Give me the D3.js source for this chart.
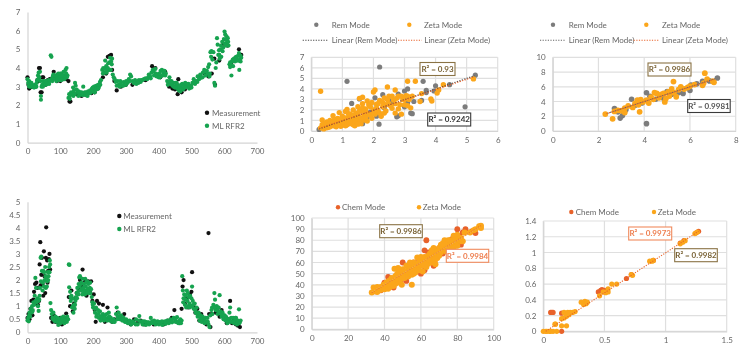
<!DOCTYPE html>
<html>
<head>
<meta charset="utf-8">
<script src="https://cdn.jsdelivr.net/npm/d3@7"></script>
<style>
  html, body { margin: 0; background: #fff; }
  svg { display: block; filter: blur(0.55px); }
  text { font-family: Lato, "Open Sans", sans-serif; fill: #595959; }
</style>
</head>
<body>
<div id="chart"></div>
<script>
// Values
const xTicksTime = [0, 100, 200, 300, 400, 500, 600, 700];
const yTicksA = [0, 1, 2, 3, 4, 5, 6, 7];
const yTicksD = [0, 0.5, 1, 1.5, 2, 2.5, 3, 3.5, 4, 4.5, 5];
const xTicksB = [0, 1, 2, 3, 4, 5, 6];
const yTicksB = [0, 1, 2, 3, 4, 5, 6, 7];
const xTicksC = [0, 2, 4, 6, 8];
const yTicksC = [0, 2, 4, 6, 8, 10];
const xTicksE = [0, 20, 40, 60, 80, 100];
const yTicksE = [0, 10, 20, 30, 40, 50, 60, 70, 80, 90, 100];
const xTicksF = [0, 0.5, 1, 1.5];
const yTicksF = [0, 0.2, 0.4, 0.6, 0.8, 1, 1.2, 1.4];

const measureA = [[0,3.5],[3,3.1],[5,2.9],[8,2.95],[12,3.0],[18,3.0],[24,3.0],[30,3.35],[33,3.3],[35,4.0],[38,4.0],[40,2.7],[43,2.7],[45,3.5],[48,3.5],[55,3.1],[62,3.35],[68,3.4],[80,3.8],[90,3.3],[100,3.3],[110,3.4],[118,3.4],[125,3.3],[128,2.2],[131,2.2],[140,2.6],[150,2.6],[165,2.5],[180,2.55],[195,2.65],[205,2.7],[215,2.9],[230,3.5],[240,3.7],[245,4.6],[250,4.65],[255,4.7],[258,3.9],[265,3.3],[272,2.8],[285,3.0],[300,3.1],[320,3.1],[340,3.25],[360,3.35],[380,4.1],[390,4.0],[405,3.5],[420,3.8],[432,3.0],[442,2.9],[450,2.85],[458,2.6],[460,3.4],[470,2.7],[480,2.85],[495,2.95],[510,3.2],[525,3.5],[540,3.7],[552,3.55],[562,3.7],[570,4.5],[572,3.1],[585,4.4],[598,5.3],[610,5.2],[622,4.3],[632,4.5],[645,5.0],[648,4.7],[652,4.7]];
const modelA = [[0,3.4],[2,3.2],[4,3.05],[6,3.0],[8,3.15],[10,3.0],[13,3.1],[16,3.0],[19,3.05],[22,3.1],[25,3.0],[28,3.2],[30,3.35],[32,3.6],[34,3.75],[36,3.5],[38,3.8],[40,3.3],[41,2.5],[41,2.3],[43,3.0],[45,3.1],[47,3.0],[50,3.15],[53,3.2],[56,3.1],[59,3.3],[62,3.25],[65,3.35],[68,3.3],[71,4.68],[73,4.6],[74,3.4],[77,3.55],[80,3.45],[83,3.6],[86,3.4],[89,3.55],[92,3.65],[95,3.4],[98,3.6],[101,3.5],[104,3.7],[107,3.45],[110,3.8],[113,3.6],[116,3.9],[119,4.0],[122,3.6],[125,2.4],[127,2.6],[129,2.35],[131,2.55],[133,2.7],[136,2.65],[139,2.95],[142,2.8],[145,3.2],[147,3.05],[150,2.85],[153,2.7],[156,2.75],[159,2.55],[162,2.6],[165,2.7],[168,2.55],[170,3.0],[173,2.6],[176,2.55],[179,2.7],[182,2.6],[185,2.75],[188,2.65],[191,2.8],[194,2.7],[197,2.9],[200,2.75],[203,3.0],[206,2.85],[209,3.05],[212,2.95],[215,3.1],[218,3.0],[221,3.25],[224,3.35],[228,3.9],[231,4.0],[234,3.75],[237,4.4],[240,4.1],[243,3.85],[246,4.25],[249,3.9],[252,4.55],[255,4.35],[258,4.5],[260,3.65],[263,3.5],[266,3.4],[269,3.25],[272,3.05],[275,3.3],[278,3.1],[281,3.0],[285,3.15],[289,3.05],[293,3.25],[297,3.15],[301,3.3],[305,3.2],[309,3.4],[313,3.65],[316,3.55],[320,3.3],[324,3.2],[328,3.35],[332,3.15],[336,3.3],[340,3.35],[345,3.25],[350,3.35],[355,3.4],[360,3.45],[365,3.4],[370,3.65],[374,3.55],[378,3.75],[382,3.9],[386,3.6],[390,3.95],[394,3.55],[398,3.65],[402,3.7],[406,3.85],[410,3.9],[414,3.75],[418,3.85],[422,3.7],[426,3.3],[430,3.2],[433,3.5],[436,3.15],[439,3.3],[442,3.05],[445,3.2],[448,3.0],[451,3.2],[454,2.95],[457,3.1],[460,2.85],[463,3.0],[466,2.75],[469,2.95],[472,3.15],[475,2.9],[478,3.05],[481,3.2],[484,3.05],[487,3.0],[491,3.15],[495,3.0],[499,3.05],[503,3.2],[507,3.4],[511,3.15],[515,3.3],[519,3.55],[523,3.4],[527,3.65],[531,3.5],[535,3.75],[539,3.9],[543,3.6],[547,3.85],[551,4.05],[554,4.2],[556,3.7],[558,4.85],[561,4.9],[564,4.45],[567,4.85],[570,3.2],[572,3.05],[574,4.0],[576,4.3],[578,5.6],[580,5.25],[582,4.7],[584,4.95],[586,4.5],[588,5.0],[591,4.6],[594,5.4],[597,5.1],[599,5.55],[601,5.95],[603,5.8],[605,5.5],[607,5.7],[609,5.35],[611,5.6],[613,5.2],[616,4.2],[618,4.05],[620,4.2],[622,3.6],[624,4.35],[627,4.1],[630,4.5],[633,4.35],[636,4.6],[639,4.4],[642,4.65],[645,4.8],[646,3.9],[648,4.45],[650,4.35],[652,4.55]];
const modelAExtra = [[5,3.3],[12,3.2],[20,2.95],[27,3.0],[33,3.4],[48,3.3],[55,3.3],[60,3.15],[66,3.15],[76,3.3],[79,3.65],[85,3.6],[88,3.3],[91,3.4],[94,3.7],[97,3.35],[100,3.7],[103,3.35],[106,3.6],[109,3.6],[112,3.4],[115,3.55],[118,3.7],[120,3.5],[140,2.5],[144,2.6],[155,2.5],[160,2.7],[167,2.65],[175,2.7],[183,2.5],[190,2.65],[199,2.95],[205,2.7],[210,2.85],[216,2.9],[222,3.1],[230,3.7],[236,3.95],[241,3.75],[245,4.0],[250,4.3],[254,3.9],[257,4.2],[283,3.3],[292,3.05],[300,3.1],[312,3.3],[327,3.2],[338,3.2],[347,3.35],[368,3.5],[376,3.45],[385,3.8],[392,3.7],[400,3.5],[404,3.5],[412,3.6],[420,3.6],[428,3.1],[434,3.3],[440,3.2],[446,3.0],[450,2.95],[455,3.2],[462,2.8],[468,3.1],[474,2.85],[480,2.95],[486,3.15],[493,2.9],[500,2.95],[510,3.3],[518,3.25],[526,3.45],[534,3.5],[542,3.8],[550,3.7],[555,3.55],[560,4.6],[585,4.7],[590,5.2],[595,4.9],[602,5.3],[606,5.2],[612,5.4],[618,4.3],[626,4.45],[632,4.5],[638,4.5],[644,4.4],[650,4.65]];

const measureD = [[0,0.55],[3,0.7],[6,0.5],[9,0.9],[12,1.2],[15,0.65],[18,1.25],[20,1.55],[23,1.85],[25,1.1],[27,1.9],[30,1.7],[32,1.05],[35,1.2],[37,2.6],[39,3.45],[40,1.8],[42,2.2],[44,2.85],[46,1.85],[48,1.4],[50,3.1],[52,2.15],[54,1.5],[56,2.85],[57,4.02],[60,2.75],[61,1.9],[63,2.35],[65,2.8],[67,3.0],[69,2.4],[72,0.55],[76,0.4],[80,0.65],[85,0.4],[90,0.5],[95,0.35],[100,0.55],[105,0.3],[110,0.45],[115,0.4],[118,0.72],[122,0.5],[126,1.35],[130,1.0],[134,1.6],[138,0.8],[142,1.1],[146,1.3],[150,1.5],[155,1.7],[160,2.0],[165,1.75],[168,2.4],[172,1.5],[176,1.95],[180,1.4],[185,1.95],[190,1.55],[194,1.95],[198,1.2],[202,1.45],[205,0.85],[208,0.4],[212,1.2],[218,1.1],[224,0.6],[230,1.05],[236,0.4],[244,0.95],[250,0.5],[258,0.4],[265,0.5],[275,0.75],[285,0.5],[295,0.7],[305,0.4],[315,0.3],[325,0.5],[335,0.35],[345,0.45],[355,0.3],[370,0.35],[385,0.3],[400,0.35],[415,0.3],[428,0.45],[440,0.55],[448,0.85],[456,0.4],[464,0.35],[470,0.9],[473,1.75],[476,2.0],[480,1.1],[485,1.3],[490,0.95],[495,1.45],[500,1.55],[502,2.3],[506,1.0],[512,0.75],[518,0.9],[524,0.45],[530,0.7],[538,0.4],[546,0.3],[552,3.8],[554,0.7],[558,0.2],[562,0.7],[568,0.95],[574,0.75],[580,0.95],[586,0.6],[592,0.85],[600,0.5],[608,0.35],[614,0.5],[618,1.2],[624,0.35],[630,0.5],[636,0.3],[642,0.25],[648,0.2]];
const modelD = [[0,0.45],[2,0.55],[4,0.42],[6,0.75],[8,0.6],[10,0.9],[12,0.75],[14,1.0],[16,0.85],[18,1.15],[20,1.05],[22,1.4],[24,2.08],[26,1.7],[28,1.15],[30,1.3],[32,1.0],[34,0.82],[36,1.25],[38,1.7],[40,2.85],[42,2.9],[44,2.35],[46,1.6],[48,2.35],[50,1.75],[52,2.0],[54,2.5],[56,1.7],[58,2.1],[60,1.95],[62,2.3],[64,2.15],[66,2.5],[68,2.75],[69,2.6],[70,1.12],[72,0.85],[74,0.7],[76,0.55],[79,0.75],[82,0.45],[85,0.6],[88,0.45],[91,0.55],[94,0.28],[97,0.5],[100,0.35],[103,0.55],[106,0.42],[109,0.6],[112,0.35],[115,0.55],[118,0.45],[121,0.6],[124,0.5],[126,2.6],[128,2.58],[127,1.72],[130,1.55],[132,1.2],[134,1.4],[136,0.95],[138,1.3],[140,0.75],[142,1.05],[144,0.9],[146,1.2],[148,1.35],[150,1.5],[152,1.7],[154,1.55],[156,1.85],[158,2.1],[160,2.15],[162,1.6],[164,1.9],[166,1.65],[168,2.05],[170,1.5],[172,1.85],[174,1.6],[176,2.05],[178,1.75],[180,1.5],[182,1.95],[184,1.65],[186,1.85],[188,1.5],[190,1.7],[192,1.5],[194,1.65],[196,1.35],[198,1.15],[200,0.95],[203,1.1],[206,0.75],[209,0.95],[212,0.7],[215,0.85],[218,0.55],[221,0.8],[224,0.6],[227,0.5],[230,0.7],[233,0.45],[236,0.65],[239,0.5],[242,0.7],[245,0.55],[248,0.75],[251,0.45],[254,0.55],[258,0.4],[262,0.5],[266,0.4],[270,0.7],[272,0.95],[275,0.6],[278,0.75],[281,0.5],[285,0.65],[289,0.45],[293,0.55],[297,0.4],[301,0.5],[306,0.35],[311,0.45],[316,0.3],[321,0.42],[326,0.35],[331,0.5],[336,0.3],[341,0.62],[346,0.4],[351,0.3],[356,0.42],[361,0.28],[366,0.38],[371,0.3],[376,0.55],[381,0.35],[386,0.45],[391,0.3],[396,0.42],[401,0.3],[406,0.38],[411,0.28],[416,0.4],[421,0.32],[426,0.45],[431,0.35],[436,0.5],[441,0.38],[446,0.55],[451,0.4],[456,0.58],[461,0.42],[466,0.5],[470,0.45],[472,2.15],[474,1.6],[476,1.3],[478,1.45],[480,1.05],[482,1.25],[484,0.95],[486,1.6],[488,1.2],[490,1.0],[492,1.35],[494,1.1],[496,1.4],[498,1.0],[500,1.3],[502,1.75],[504,1.2],[507,0.9],[510,1.1],[513,0.75],[516,0.95],[519,0.6],[522,0.75],[525,0.45],[528,0.65],[531,0.4],[534,0.6],[537,0.5],[540,0.35],[543,0.55],[546,0.4],[549,0.55],[552,0.3],[555,0.2],[558,0.65],[561,0.85],[564,0.7],[567,1.05],[570,1.5],[572,1.25],[574,0.85],[577,1.0],[580,0.7],[583,0.95],[586,1.42],[589,0.8],[592,0.6],[595,0.75],[598,0.5],[601,0.65],[604,0.45],[607,0.55],[610,0.35],[613,0.5],[616,0.75],[618,0.95],[621,0.55],[624,0.4],[627,0.55],[630,0.35],[633,0.45],[636,0.55],[639,0.3],[642,0.45],[645,0.88],[648,0.4],[650,0.45]];
const modelDExtra = [[5,0.65],[15,0.8],[25,1.2],[33,1.2],[37,1.4],[41,1.95],[47,1.9],[51,2.3],[55,2.15],[59,1.75],[63,2.0],[67,2.3],[78,0.5],[84,0.42],[90,0.4],[96,0.42],[102,0.42],[108,0.5],[114,0.45],[120,0.4],[131,1.35],[139,1.0],[145,1.05],[151,1.3],[155,1.45],[159,1.75],[163,1.85],[167,1.45],[171,1.7],[175,1.45],[179,1.9],[183,1.55],[187,1.65],[191,1.9],[199,1.05],[205,0.9],[210,0.6],[217,0.7],[223,0.45],[229,0.55],[235,0.55],[243,0.45],[250,0.6],[256,0.45],[264,0.4],[274,0.5],[282,0.6],[290,0.5],[300,0.4],[310,0.35],[320,0.35],[330,0.3],[340,0.45],[350,0.42],[360,0.4],[370,0.38],[380,0.42],[390,0.38],[400,0.4],[410,0.42],[420,0.42],[430,0.42],[440,0.45],[450,0.5],[460,0.35],[468,0.35],[475,1.15],[483,1.4],[489,1.5],[495,0.95],[501,1.0],[506,1.05],[512,0.85],[518,0.7],[524,0.6],[530,0.5],[542,0.4],[550,0.4],[563,0.95],[571,0.95],[579,0.85],[585,0.75],[591,0.7],[597,0.65],[605,0.6],[612,0.4],[620,0.4],[628,0.4],[634,0.55],[640,0.4],[646,0.35]];

const remB = [[0.25,0.15],[0.5,0.4],[0.7,0.6],[0.9,0.7],[1.1,0.55],[1.15,4.72],[1.2,1.0],[1.3,2.62],[1.35,0.9],[1.5,1.2],[1.55,3.05],[1.65,0.7],[1.8,1.3],[1.9,1.8],[2.05,3.15],[2.1,1.4],[2.15,1.6],[2.18,0.65],[2.2,6.08],[2.3,3.45],[2.35,2.2],[2.5,2.9],[2.6,2.6],[2.75,1.35],[2.8,1.45],[2.8,3.5],[3.0,2.3],[3.0,3.8],[3.1,4.0],[3.1,2.7],[3.2,1.7],[3.25,1.65],[3.3,2.8],[3.55,2.9],[3.6,4.72],[3.7,3.65],[3.7,3.85],[3.95,3.8],[4.0,4.3],[4.45,4.4],[4.95,2.3],[5.28,5.3]];
const zetaB = [[0.3,3.78],[0.3,0.3],[0.35,0.6],[0.35,1.05],[0.4,0.2],[0.45,0.5],[0.5,0.85],[0.5,0.3],[0.55,0.6],[0.6,1.0],[0.6,0.4],[0.65,0.75],[0.7,1.45],[0.7,0.5],[0.75,1.1],[0.8,0.4],[0.8,0.85],[0.85,1.2],[0.9,0.55],[0.9,1.75],[0.95,0.9],[1.0,1.4],[1.0,0.6],[1.05,1.1],[1.1,0.5],[1.1,1.85],[1.15,0.85],[1.15,2.05],[1.2,1.3],[1.25,0.7],[1.25,1.6],[1.3,1.0],[1.35,2.0],[1.35,0.6],[1.4,1.35],[1.4,0.5],[1.45,1.7],[1.5,0.9],[1.5,2.3],[1.55,1.3],[1.55,3.1],[1.6,1.9],[1.6,0.7],[1.65,2.6],[1.65,3.2],[1.7,1.5],[1.7,1.05],[1.75,2.1],[1.8,0.95],[1.8,2.85],[1.85,1.6],[1.9,2.3],[1.95,1.2],[2.0,2.0],[2.0,3.7],[2.05,1.6],[2.05,3.9],[2.1,2.55],[2.15,1.9],[2.2,2.9],[2.25,1.4],[2.3,2.3],[2.35,3.15],[2.4,1.9],[2.45,4.18],[2.5,2.6],[2.5,3.3],[2.6,2.15],[2.65,2.95],[2.7,1.7],[2.7,3.9],[2.8,3.3],[2.85,2.5],[2.9,1.6],[2.95,3.0],[3.0,2.5],[3.05,3.35],[3.1,4.72],[3.15,3.0],[3.2,2.2],[3.25,3.3],[3.35,4.72],[3.5,2.8],[3.55,3.55],[3.85,3.05],[3.88,2.85],[4.05,3.6],[4.1,3.9],[4.25,4.4],[5.22,4.95]];
const zetaBExtra = [[0.4,0.7],[0.55,0.35],[0.6,0.7],[0.7,0.85],[0.75,0.55],[0.85,0.6],[0.9,1.0],[0.95,0.45],[1.0,1.0],[1.05,0.7],[1.1,1.25],[1.15,0.6],[1.2,1.65],[1.25,1.15],[1.3,0.75],[1.35,1.5],[1.4,0.95],[1.45,1.25],[1.5,1.6],[1.5,0.65],[1.55,1.9],[1.6,1.15],[1.65,2.2],[1.7,1.85],[1.75,1.3],[1.8,1.7],[1.85,2.5],[1.9,1.5],[1.95,2.7],[2.0,1.7],[2.1,2.2],[2.15,2.6],[2.2,1.7],[2.3,2.7],[2.35,1.7],[2.4,2.5],[2.45,3.0],[2.55,2.4],[2.6,3.3],[2.7,2.6],[2.75,3.1],[2.8,2.1],[2.9,3.3],[3.0,3.0],[3.1,3.3],[3.1,2.4]];

const remC = [[2.7,3.05],[2.85,2.6],[2.95,1.75],[3.05,2.1],[3.2,2.9],[3.45,4.3],[3.6,3.5],[3.9,3.8],[4.1,5.2],[4.1,1.0],[4.25,4.7],[4.5,4.3],[4.7,4.6],[4.85,4.4],[5.0,5.35],[5.2,5.0],[5.5,5.2],[5.7,5.1],[6.0,5.5],[6.05,6.25],[6.3,6.4],[6.55,6.75],[6.85,6.8],[7.2,7.2]];
const zetaC = [[2.3,2.3],[2.62,1.65],[2.7,2.65],[2.85,2.8],[3.0,2.75],[3.15,2.5],[3.15,3.1],[3.3,3.4],[3.5,3.2],[3.6,3.75],[3.7,4.2],[3.75,3.55],[3.8,2.6],[3.85,4.25],[3.95,3.95],[4.1,4.2],[4.2,3.8],[4.3,4.6],[4.4,4.3],[4.45,5.2],[4.55,5.1],[4.65,4.5],[4.75,4.95],[4.85,5.1],[4.9,3.95],[4.95,4.4],[5.05,5.3],[5.1,4.75],[5.2,5.7],[5.28,6.7],[5.3,5.2],[5.4,4.65],[5.5,5.6],[5.6,6.0],[5.75,5.7],[5.9,5.9],[6.0,6.1],[6.2,6.3],[6.55,6.2],[6.6,6.5],[6.65,7.85],[6.75,7.05],[7.0,6.75],[7.05,6.6]];

const trendRemB = [[0.25,0.2],[5.25,5.25]];
const trendZetaB = [[0.25,0.25],[5.25,5.15]];
const trendRemC = [[2.4,2.4],[7.1,7.1]];
const trendZetaC = [[2.35,2.35],[7.05,7.0]];

const chemE = [[35,34],[37,37],[38,35],[40,42],[41,38],[42,47],[43,40],[45,37.5],[46,43],[48,51],[49,44],[50,60],[51,47],[52,43.5],[53,56],[55,52],[56,60],[57,54],[59,62],[60,50],[62,53],[62,71],[63,80],[64,69],[65,62],[67,57],[68,63],[70,73],[72,68],[75,76],[77,81],[80,90],[81,84],[82,76],[83,87],[84.5,90],[88,88],[90,86.5]];
const zetaE = [[33,33],[34,37.5],[34.5,34.5],[35,36],[36,33.5],[36,38],[37,35],[38,38],[38,35.5],[39,37],[39.5,40],[40,36],[41,39],[41,42],[42,36.5],[42,40],[43,44],[43,38],[44,41],[44,46],[45,39],[45,43],[45.5,54.5],[46,48],[46,41],[47,44],[47,50],[47.5,55],[48,42],[48,47],[49,52],[49,45],[49.5,40],[50,48],[50,54],[51,46],[51,51],[52,57],[52,49],[53,47.5],[53,53],[54,58],[54,50],[55,40],[55,55],[55,49],[56,52],[56,60],[57,56],[57,51],[58,64.5],[58,55],[59,60],[59,53],[60,62],[60,57],[61,52],[61,64],[62,59],[62,65],[63,56],[63,61],[64,66],[64,59],[65,63],[65,68],[66,60],[66,65],[67,73],[67,62],[68,58.5],[68,67],[69,70],[69,64],[70,66],[70,73],[71,76],[71,69],[72,71],[73,80],[73,74],[74,70],[75,80],[75,75],[76,72],[77,76],[78,84],[78,73],[79,78],[80,85],[80,75],[81,80],[82,82],[83,79],[84,87],[87,87],[89,89],[90,90],[92,92.5],[93,91],[93,93]];
const zetaEExtra = [[40,40],[42,43],[44,43],[46,45],[48,49],[50,51],[52,52],[54,54],[56,56],[58,58],[60,60],[62,62],[64,63],[66,67],[68,70],[70,70],[72,74],[74,76],[76,77],[78,80],[80,81],[48,53],[54,60],[60,65],[66,71],[72,77],[76,80],[82,79],[50,46],[56,50],[62,57],[68,63],[74,72]];
const trendChemE = [[33,33],[93,93]];
const trendZetaE = [[33,33.5],[93,92.5]];

const chemF = [[0.06,0.24],[0.07,0.24],[0.08,0.24],[0.15,0],[0.15,0.23],[0.45,0.5],[0.47,0.52],[0.48,0.53],[0.5,0.52],[0.68,0.67],[0.72,0.72],[0.9,0.9],[1.12,1.12],[1.15,1.15],[1.25,1.25],[1.27,1.27]];
const zetaF = [[0,0],[0.02,0],[0.03,0],[0.05,0],[0.06,0],[0.08,0],[0.11,0],[0.1,0.09],[0.095,0.09],[0.15,0.07],[0.19,0.07],[0.15,0.16],[0.17,0.17],[0.17,0.24],[0.19,0.19],[0.2,0.24],[0.21,0.21],[0.22,0.24],[0.24,0.24],[0.26,0.25],[0.31,0.37],[0.33,0.34],[0.34,0.38],[0.35,0.35],[0.36,0.37],[0.46,0.45],[0.49,0.5],[0.51,0.49],[0.53,0.5],[0.53,0.54],[0.56,0.6],[0.6,0.6],[0.72,0.72],[0.73,0.71],[0.87,0.89],[0.89,0.89],[0.9,0.9],[1.12,1.11],[1.14,1.13],[1.16,1.15],[1.24,1.24],[1.26,1.26]];
const trendZetaF = [[0.02,0],[1.27,1.27]];

const GREEN = "#16a34f";
const ORANGE = "#fba61b";
const RED = "#e8622a";
const GRAY = "#7c7c7c";
const BROWN = "#8a7345";
const DARK = "#3a3a3a";
const SALMON = "#f08a5d";

const svg = d3.select("#chart").append("svg")
    .attr("width", 743)
    .attr("height", 353);

// Draws one panel: box is the plot area in page pixels
function drawPanel(p) {
    const x = d3.scaleLinear().domain(p.xDomain).range([p.box[0], p.box[2]]);
    const y = d3.scaleLinear().domain(p.yDomain).range([p.box[3], p.box[1]]);
    const g = svg.append("g");

    // Gridlines for the scatter panels
    if (p.grid) {
        g.selectAll(".gx").data(p.xTicks).enter().append("line")
            .attr("x1", d => x(d)).attr("x2", d => x(d))
            .attr("y1", p.box[1]).attr("y2", p.box[3])
            .attr("stroke", "#dfdfdf").attr("stroke-width", 1.2);
        g.selectAll(".gy").data(p.yTicks).enter().append("line")
            .attr("x1", p.box[0]).attr("x2", p.box[2])
            .attr("y1", d => y(d)).attr("y2", d => y(d))
            .attr("stroke", "#dfdfdf").attr("stroke-width", 1.2);
    }

    const xAxis = g.append("g")
        .attr("transform", `translate(0,${p.box[3]})`)
        .call(d3.axisBottom(x).tickValues(p.xTicks).tickSize(0).tickPadding(6).tickFormat(d3.format("")));
    const yAxis = g.append("g")
        .attr("transform", `translate(${p.box[0]},0)`)
        .call(d3.axisLeft(y).tickValues(p.yTicks).tickSize(0).tickPadding(7).tickFormat(d3.format("")));
    [xAxis, yAxis].forEach(a => {
        a.select(".domain").attr("stroke", "#d4d4d4").attr("stroke-width", 1.2);
        a.selectAll("text").style("font-family", "Lato").style("font-size", "8px").style("fill", "#666");
    });

    p.series.forEach(s => {
        g.append("g").selectAll("circle")
            .data(s.values)
            .enter().append("circle")
            .attr("cx", d => x(d[0]))
            .attr("cy", d => y(d[1]))
            .attr("r", s.r)
            .attr("fill", s.color);
    });

    const trend = d3.line().x(d => x(d[0])).y(d => y(d[1]));
    (p.trends || []).forEach(t => {
        g.append("path")
            .attr("d", trend(t.values))
            .attr("fill", "none")
            .attr("stroke", t.color)
            .attr("stroke-width", 1.1)
            .attr("stroke-dasharray", "1.2,1.4");
    });

    // R squared boxes
    (p.labels || []).forEach(l => {
        g.append("rect")
            .attr("x", l.x).attr("y", l.y)
            .attr("width", l.w).attr("height", 13)
            .attr("fill", "#fff")
            .attr("stroke", l.color)
            .attr("stroke-width", 1.1);
        g.append("text")
            .attr("x", l.x + l.w / 2)
            .attr("y", l.y + 9.4)
            .attr("text-anchor", "middle")
            .style("font-size", "8px")
            .style("font-weight", 700)
            .style("fill", l.ink || "#555")
            .text(l.text);
    });

    // Legend
    (p.legend || []).forEach(l => {
        if (l.dot) {
            g.append("circle").attr("cx", l.dot).attr("cy", l.y).attr("r", l.r || 2.2).attr("fill", l.color);
        } else {
            g.append("line").attr("x1", l.line[0]).attr("x2", l.line[1])
                .attr("y1", l.y).attr("y2", l.y)
                .attr("stroke", l.color).attr("stroke-width", 1.1)
                .attr("stroke-dasharray", "1.2,1.4");
        }
        g.append("text")
            .attr("x", l.tx).attr("y", l.y + 2.9)
            .style("font-size", "8px")
            .style("fill", "#666")
            .text(l.text);
    });
}

const panels = [
    {
        box: [27.5, 12, 257, 142.7], xDomain: [0, 700], yDomain: [0, 7],
        xTicks: xTicksTime, yTicks: yTicksA,
        series: [
            { values: measureA, color: "#111", r: 2.1 },
            { values: modelA.concat(modelAExtra), color: GREEN, r: 2.1 }
        ],
        legend: [
            { dot: 207, y: 112.7, color: "#111", tx: 212, text: "Measurement" },
            { dot: 207, y: 125.7, color: GREEN, tx: 212, text: "ML RFR2" }
        ]
    },
    {
        box: [311.3, 57.3, 497.7, 131], xDomain: [0, 6], yDomain: [0, 7], grid: true,
        xTicks: xTicksB, yTicks: yTicksB,
        series: [
            { values: remB, color: GRAY, r: 2.6 },
            { values: zetaB.concat(zetaBExtra), color: ORANGE, r: 2.7 }
        ],
        trends: [
            { values: trendRemB, color: "#444" },
            { values: trendZetaB, color: RED }
        ],
        labels: [
            { x: 420, y: 62.5, w: 35, color: BROWN, text: "R² = 0.93", ink: "#7a6336" },
            { x: 427.7, y: 113, w: 43, color: DARK, text: "R² = 0.9242", ink: "#333" }
        ],
        legend: [
            { dot: 316.3, y: 24.7, color: GRAY, tx: 331.7, text: "Rem Mode" },
            { dot: 409.3, y: 24.7, color: ORANGE, tx: 424, text: "Zeta Mode" },
            { line: [302.7, 328], y: 40.3, color: "#444", tx: 331.7, text: "Linear (Rem Mode)" },
            { line: [398, 421.7], y: 40.3, color: RED, tx: 424.3, text: "Linear (Zeta Mode)" }
        ]
    },
    {
        box: [552.7, 57.3, 735.7, 131], xDomain: [0, 8], yDomain: [0, 10], grid: true,
        xTicks: xTicksC, yTicks: yTicksC,
        series: [
            { values: remC, color: GRAY, r: 2.8 },
            { values: zetaC, color: ORANGE, r: 2.9 }
        ],
        trends: [
            { values: trendRemC, color: "#666" },
            { values: trendZetaC, color: RED }
        ],
        labels: [
            { x: 648, y: 63, w: 43, color: BROWN, text: "R² = 0.9986", ink: "#7a6336" },
            { x: 687.7, y: 99.5, w: 42.5, color: DARK, text: "R² = 0.9981", ink: "#555" }
        ],
        legend: [
            { dot: 553, y: 24.7, color: GRAY, tx: 568.7, text: "Rem Mode" },
            { dot: 646.3, y: 24.7, color: ORANGE, tx: 662, text: "Zeta Mode" },
            { line: [540, 565.7], y: 40.3, color: "#666", tx: 568.7, text: "Linear (Rem Mode)" },
            { line: [633.7, 659], y: 40.3, color: RED, tx: 662, text: "Linear (Zeta Mode)" }
        ]
    },
    {
        box: [27.5, 201.7, 257, 332.3], xDomain: [0, 700], yDomain: [0, 5],
        xTicks: xTicksTime, yTicks: yTicksD,
        series: [
            { values: measureD, color: "#111", r: 2.1 },
            { values: modelD.concat(modelDExtra), color: GREEN, r: 2.1 }
        ],
        legend: [
            { dot: 119.3, y: 216, color: "#111", tx: 123.3, text: "Measurement" },
            { dot: 119.3, y: 229, color: GREEN, tx: 123.3, text: "ML RFR2" }
        ]
    },
    {
        box: [311.7, 218, 493.7, 329.3], xDomain: [0, 100], yDomain: [0, 100], grid: true,
        xTicks: xTicksE, yTicks: yTicksE,
        series: [
            { values: chemE, color: RED, r: 2.9 },
            { values: zetaE.concat(zetaEExtra), color: ORANGE, r: 3 }
        ],
        trends: [
            { values: trendChemE, color: RED },
            { values: trendZetaE, color: "#f5b24a" }
        ],
        labels: [
            { x: 379.7, y: 224.7, w: 42.6, color: BROWN, text: "R² = 0.9986", ink: "#7a6336" },
            { x: 446.3, y: 249.3, w: 42.4, color: SALMON, text: "R² = 0.9984", ink: "#ee7f50" }
        ],
        legend: [
            { dot: 338, y: 207.3, color: RED, tx: 342, text: "Chem Mode" },
            { dot: 419, y: 207.3, color: ORANGE, tx: 422.7, text: "Zeta Mode" }
        ]
    },
    {
        box: [543.3, 221, 726.7, 331.3], xDomain: [0, 1.5], yDomain: [0, 1.4], grid: true,
        xTicks: xTicksF, yTicks: yTicksF,
        series: [
            { values: chemF, color: RED, r: 2.6 },
            { values: zetaF, color: ORANGE, r: 2.6 }
        ],
        trends: [
            { values: trendZetaF, color: RED }
        ],
        labels: [
            { x: 628.7, y: 227, w: 43, color: SALMON, text: "R² = 0.9973", ink: "#ee7f50" },
            { x: 674.7, y: 248.7, w: 42.6, color: BROWN, text: "R² = 0.9982", ink: "#7a6336" }
        ],
        legend: [
            { dot: 571.3, y: 212, color: RED, tx: 575.7, text: "Chem Mode" },
            { dot: 654, y: 212, color: ORANGE, tx: 657.7, text: "Zeta Mode" }
        ]
    }
];

panels.forEach(drawPanel);
</script>
</body>
</html>
